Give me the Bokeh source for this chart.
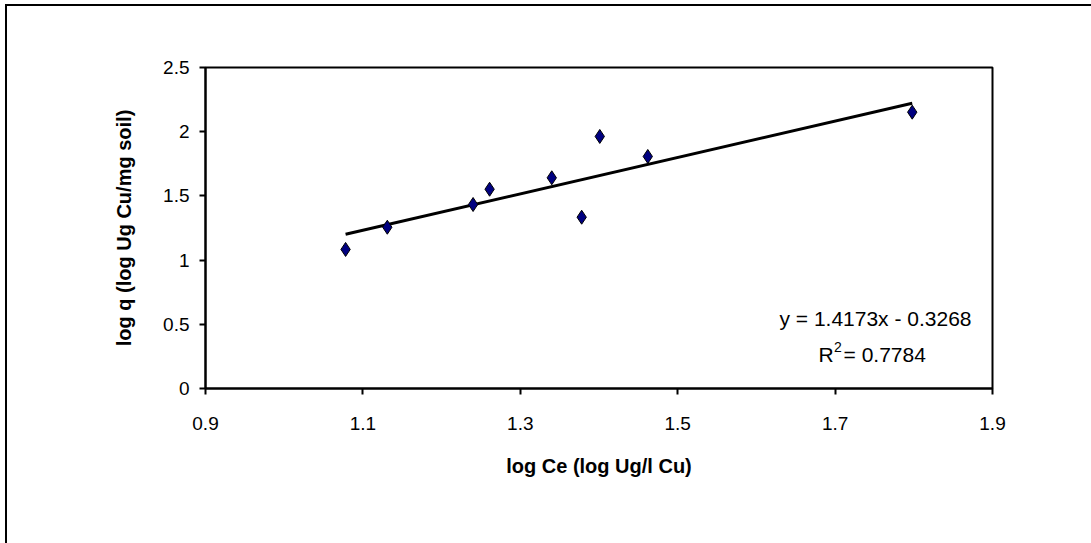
from bokeh.plotting import figure
from bokeh.models import Label, FixedTicker
from bokeh.embed import file_html
from bokeh.resources import INLINE

# Freundlich isotherm data (log-transformed)
log_ce = [1.078, 1.131, 1.240, 1.261, 1.340, 1.378, 1.401, 1.462, 1.798]
log_q = [1.083, 1.256, 1.433, 1.552, 1.641, 1.334, 1.963, 1.807, 2.152]

# Linear trendline
slope = 1.4173
intercept = -0.3268
r_squared = 0.7784

x_ticks = [0.9, 1.1, 1.3, 1.5, 1.7, 1.9]
y_ticks = [0, 0.5, 1, 1.5, 2, 2.5]

FONT = "Liberation Sans"

# chart area is offset and runs past the page's right and bottom edges;
# a shadow draws its left and top edges
p = figure(width=1110, height=560, x_range=(0.9, 1.9), y_range=(0, 2.5),
           output_backend="svg", toolbar_location=None,
           min_border_left=198, min_border_right=125,
           min_border_top=61, min_border_bottom=178)
p.styles = {"margin-left": "7px", "margin-top": "6px",
            "box-shadow": "-2px -2px 0px 0px black",
            "background-color": "white"}

p.grid.visible = False
p.outline_line_color = "black"
p.outline_line_width = 2
p.background_fill_color = "white"
p.border_fill_color = "white"

for ax in (p.xaxis[0], p.yaxis[0]):
    ax.axis_line_color = "black"
    ax.axis_line_width = 2
    ax.major_tick_line_color = "black"
    ax.major_tick_line_width = 2
    ax.major_tick_out = 6
    ax.major_tick_in = 0
    ax.minor_tick_line_color = None
    ax.major_label_text_font = FONT
    ax.major_label_text_font_size = "19px"
    ax.major_label_text_color = "black"
    ax.axis_label_text_font = FONT
    ax.axis_label_text_font_size = "20px"
    ax.axis_label_text_font_style = "bold"
    ax.axis_label_text_color = "black"

p.xaxis.ticker = FixedTicker(ticks=x_ticks)
p.yaxis.ticker = FixedTicker(ticks=y_ticks)
p.xaxis.major_label_overrides = {t: f"{t:g}" for t in x_ticks}
p.yaxis.major_label_overrides = {t: f"{t:g}" for t in y_ticks}
p.xaxis.axis_label = "log Ce (log Ug/l Cu)"
p.yaxis.axis_label = "log q (log Ug Cu/mg soil)"
p.xaxis.major_label_standoff = 22
p.xaxis.axis_label_standoff = 22
p.yaxis.major_label_standoff = 10
p.yaxis.axis_label_standoff = 25

# trendline across the data range
x0, x1 = min(log_ce), max(log_ce)
p.line([x0, x1], [slope * x0 + intercept, slope * x1 + intercept],
       line_color="black", line_width=3)

p.scatter(log_ce, log_q, marker="diamond", size=14,
          fill_color="#000080", line_color="black", line_width=1)

sign = "-" if intercept < 0 else "+"
eq = f"y = {slope:.4f}x {sign} {abs(intercept):.4f}"
p.add_layout(Label(x=1.7513, y=0.545, text=eq, text_align="center",
                   text_baseline="middle", text_font=FONT,
                   text_font_size="21px", text_color="black"))

# R² line built from pieces so the exponent sits raised
r_x = 1.679
p.add_layout(Label(x=r_x, y=0.262, text="R", text_align="left",
                   text_baseline="middle", text_font=FONT,
                   text_font_size="21px", text_color="black"))
p.add_layout(Label(x=r_x, y=0.262, x_offset=15.5, y_offset=8, text="2",
                   text_align="left", text_baseline="middle", text_font=FONT,
                   text_font_size="14px", text_color="black"))
p.add_layout(Label(x=r_x, y=0.262, x_offset=25, text=f" = {r_squared:.4f}",
                   text_align="left", text_baseline="middle", text_font=FONT,
                   text_font_size="21px", text_color="black"))

html = file_html(p, INLINE)
# keep the page free of scrollbars
html = html.replace("</head>",
                    "<style>html, body { margin: 0; overflow: hidden; }</style>\n</head>", 1)
open("out.html", "w").write(html)
